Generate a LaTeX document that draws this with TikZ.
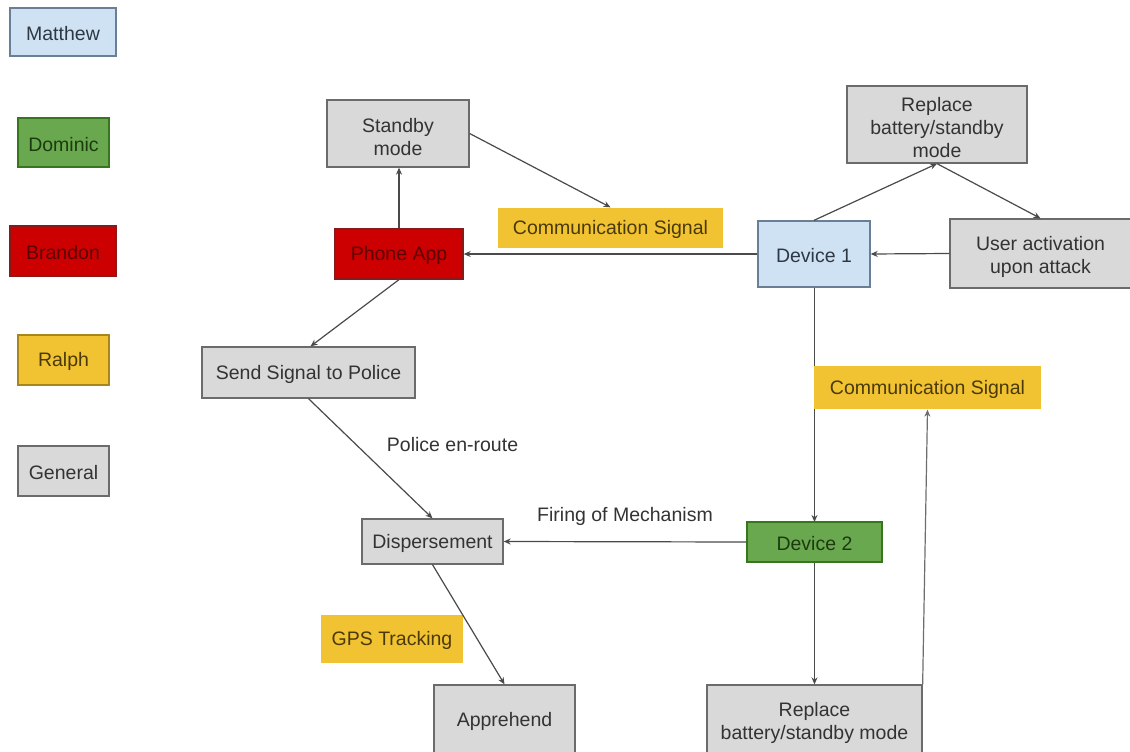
\documentclass[tikz,border=0pt]{standalone}
\usepackage{fontspec}
\setmainfont{Liberation Sans}
\usetikzlibrary{arrows.meta}

% team colours
\definecolor{mattfill}{HTML}{CFE2F3}
\definecolor{mattline}{HTML}{6A7F95}
\definecolor{matttext}{HTML}{2E3845}
\definecolor{domfill}{HTML}{6AA84F}
\definecolor{domline}{HTML}{38761D}
\definecolor{domtext}{HTML}{1C3A10}
\definecolor{brafill}{HTML}{CC0000}
\definecolor{braline}{HTML}{8A1A1A}
\definecolor{bratext}{HTML}{5C0000}
\definecolor{ralfill}{HTML}{F1C232}
\definecolor{ralline}{HTML}{A8861E}
\definecolor{raltext}{HTML}{4A3A08}
\definecolor{genfill}{HTML}{D9D9D9}
\definecolor{genline}{HTML}{6B6B6B}
\definecolor{gentext}{HTML}{333333}
\definecolor{wire}{HTML}{4A4A4A}

% struts so that the text block sits centred on its capital letters
\newcommand\capstrut{\rule{0pt}{18pt}}
\newcommand\tallstrut{\rule{0pt}{21pt}}
\newcommand\capfoot{\rule[-1pt]{0pt}{0pt}}

\tikzset{
  txt/.style={font=\fontsize{19.5}{23}\selectfont,
    execute at begin node=\capstrut, execute at end node=\capfoot},
  box/.style={txt, rectangle, inner sep=0pt, align=center, line width=1.3pt},
  matt/.style={box, fill=mattfill, draw=mattline, text=matttext},
  dom/.style={box, fill=domfill, draw=domline, text=domtext},
  bra/.style={box, fill=brafill, draw=braline, text=bratext},
  ral/.style={box, fill=ralfill, draw=ralline, text=raltext},
  ralplain/.style={box, fill=ralfill, draw=none, text=raltext},
  gen/.style={box, fill=genfill, draw=genline, text=gentext},
  lbl/.style={txt, inner sep=0pt, text=gentext},
  flow/.style={draw=wire, line width=1.2pt, -{Stealth[length=7pt,width=6pt]}},
}

\begin{document}
\begin{tikzpicture}[x=1pt, y=-1pt]
\useasboundingbox (0,0) rectangle (1130,752);
\fill[white] (0,0) rectangle (1130,752);
\clip (0,0) rectangle (1130,752);

% legend
\node[matt, minimum width=106pt, minimum height=48pt] (legM) at (63,32) {Matthew};
\node[dom,  minimum width=91pt,  minimum height=49pt] (legD) at (63.5,142.5) {Dominic};
\node[bra,  minimum width=106pt, minimum height=50pt] (legB) at (63,251) {Brandon};
\node[ral,  minimum width=91pt,  minimum height=50pt] (legR) at (63.5,360) {Ralph};
\node[gen,  minimum width=91pt,  minimum height=50pt] (legG) at (63.5,471) {General};

% connector between the two devices runs under the signal box
\draw[flow] (814.5,287) -- (814.5,522);

% flow nodes
\node[gen, minimum width=142pt, minimum height=67pt] (standby) at (398,133.5) {\tallstrut Standby\\mode};
\node[bra, minimum width=128pt, minimum height=50pt] (phone) at (399,254) {Phone App};
\node[ralplain, minimum width=225pt, minimum height=40pt] (comm1) at (610.5,228) {Communication Signal};
\node[matt, minimum width=112pt, minimum height=66pt] (dev1) at (814,254) {Device 1};
\node[gen, minimum width=180pt, minimum height=77pt] (reptop) at (937,124.5) {\tallstrut Replace\\battery/standby\\mode};
\node[gen, minimum width=181pt, minimum height=69pt] (user) at (1040.5,253.5) {\tallstrut User activation\\upon attack};
\node[gen, minimum width=213pt, minimum height=51pt] (police) at (308.5,372.5) {Send Signal to Police};
\node[gen, minimum width=141pt, minimum height=45pt] (disp) at (432.5,541.5) {Dispersement};
\node[dom, minimum width=135pt, minimum height=40pt] (dev2) at (814.5,542) {Device 2};
\node[ralplain, minimum width=227pt, minimum height=43pt] (comm2) at (927.5,387.5) {Communication Signal};
\node[ralplain, minimum width=142pt, minimum height=48pt] (gps) at (392,639) {GPS Tracking};
\node[gen, minimum width=141pt, minimum height=69pt] (appr) at (504.5,719.5) {Apprehend};
\node[gen, minimum width=215pt, minimum height=69pt] (repbot) at (814.5,719.5) {\tallstrut Replace\\battery/standby mode};

% connectors
\draw[flow] (phone.north) -- (phone.north |- standby.south);
\draw[flow] (standby.east) -- (comm1.north);
\draw[flow] (dev1.west) -- (phone.east);
\draw[flow] (dev1.north) -- (reptop.south);
\draw[flow] (reptop.south) -- (user.north);
\draw[flow] (user.west) -- (dev1.east);
\draw[flow] (dev2.west) -- (disp.east)
  node[lbl, midway, yshift=27pt] (firing) {Firing of Mechanism};
\draw[flow] (phone.south) -- ([xshift=2pt]police.north);
\draw[flow] (police.south) -- (disp.north)
  node[lbl, pos=0.37, anchor=west, xshift=32pt] (enroute) {Police en-route};
\draw[flow] (disp.south) -- (appr.north);
\draw[flow] (dev2.south) -- (repbot.north);
\draw[flow, draw=wire!80] (repbot.north east) -- (comm2.south);
\end{tikzpicture}
\end{document}
